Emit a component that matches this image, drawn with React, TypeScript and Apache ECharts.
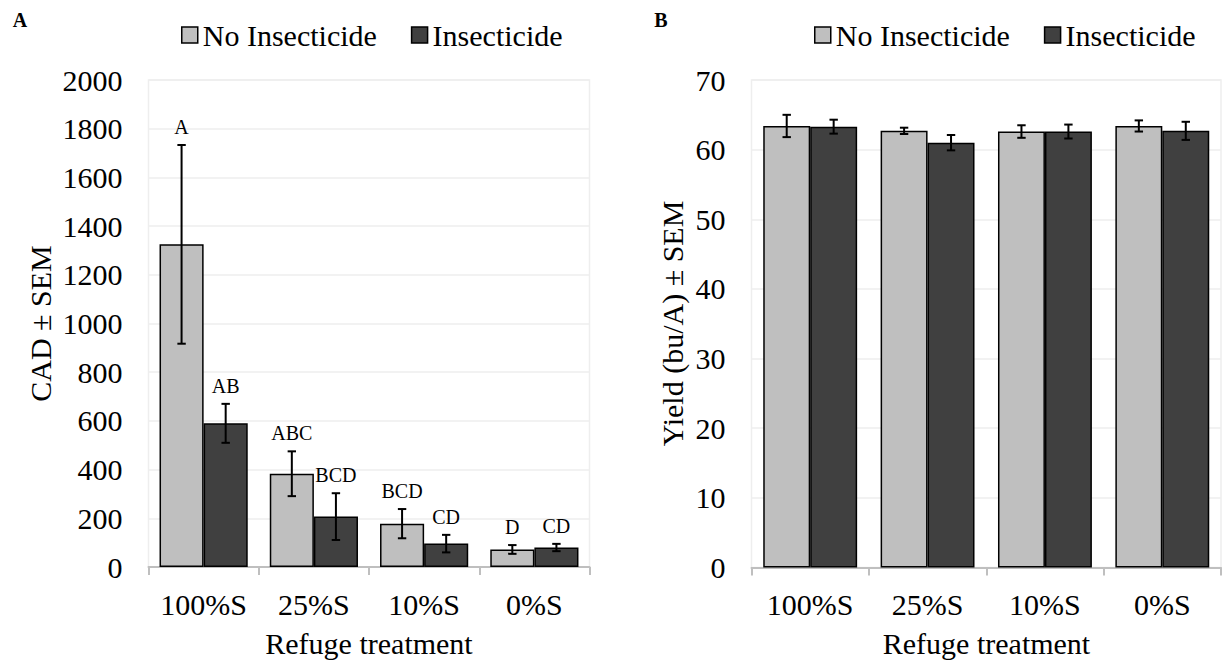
import React, { useEffect, useRef } from "react";
import * as echarts from "echarts";

const categories = ["100%S", "25%S", "10%S", "0%S"];
const seriesNames = ["No Insecticide", "Insecticide"];

// Panel A: CAD ± SEM
const cadNoIns = [1325, 383, 178, 72];
const cadNoInsErr = [408, 92, 60, 18];
const cadNoInsLetters = ["A", "ABC", "BCD", "D"];
const cadIns = [590, 207, 96, 80];
const cadInsErr = [80, 96, 36, 15];
const cadInsLetters = ["AB", "BCD", "CD", "CD"];
const cadTicks = { min: 0, max: 2000, interval: 200 };

// Panel B: Yield (bu/A) ± SEM
const yieldNoIns = [63.4, 62.7, 62.6, 63.4];
const yieldNoInsErr = [1.6, 0.45, 0.9, 0.8];
const yieldIns = [63.3, 61.0, 62.6, 62.7];
const yieldInsErr = [1.0, 1.1, 1.0, 1.3];
const yieldTicks = { min: 0, max: 70, interval: 10 };

const FONT = "Liberation Serif";
const LIGHT = "#bfbfbf";
const DARK = "#404040";

function errorSeries(
  name: string,
  gi: number,
  values: number[],
  errs: number[],
  side: number,
  letters: string[] | null
) {
  return {
    type: "custom",
    name,
    xAxisIndex: gi,
    yAxisIndex: gi,
    z: 10,
    data: values.map((v, i) => [i, v, errs[i]]),
    renderItem: (params: any, api: any) => {
      const i = api.value(0);
      const v = api.value(1);
      const e = api.value(2);
      const band = api.size([1, 0])[0];
      const c = api.coord([i, v]);
      const x = c[0] + side * band * 0.2;
      const yt = api.coord([i, v + e])[1];
      const yb = api.coord([i, v - e])[1];
      const cap = 4.2;
      const style = { stroke: "#000", lineWidth: 2 };
      const children: any[] = [
        { type: "line", shape: { x1: x, y1: yt, x2: x, y2: yb }, style },
        { type: "line", shape: { x1: x - cap, y1: yt, x2: x + cap, y2: yt }, style },
        { type: "line", shape: { x1: x - cap, y1: yb, x2: x + cap, y2: yb }, style },
      ];
      if (letters) {
        children.push({
          type: "text",
          x,
          y: yt - 18,
          style: {
            text: letters[params.dataIndex],
            fill: "#000",
            fontSize: 20,
            fontFamily: FONT,
            align: "center",
            verticalAlign: "middle",
          },
        });
      }
      return { type: "group", children };
    },
  };
}

function barSeries(name: string, gi: number, values: number[], color: string) {
  return {
    type: "bar",
    name,
    xAxisIndex: gi,
    yAxisIndex: gi,
    data: values,
    barGap: "0%",
    barCategoryGap: "20%",
    itemStyle: { color, borderColor: "#000", borderWidth: 1.5 },
  };
}

function xAxis(gi: number) {
  return {
    type: "category",
    gridIndex: gi,
    data: categories,
    axisLine: { show: true, lineStyle: { color: "#bfbfbf", width: 2 } },
    axisTick: { show: true, length: 8, lineStyle: { color: "#bfbfbf", width: 2 } },
    axisLabel: { color: "#000", fontSize: 30, fontFamily: FONT, margin: 22, interval: 0 },
  };
}

function yAxis(gi: number, t: { min: number; max: number; interval: number }) {
  return {
    type: "value",
    gridIndex: gi,
    min: t.min,
    max: t.max,
    interval: t.interval,
    axisLine: { show: false },
    axisTick: { show: false },
    splitLine: { show: true, lineStyle: { color: "#eeeeee", width: 1.5 } },
    axisLabel: {
      color: "#000",
      fontSize: 30,
      fontFamily: FONT,
      margin: 26,
      formatter: (v: number) => String(v),
    },
  };
}

function legend(left: number) {
  return {
    left,
    top: 15,
    icon: "rect",
    itemWidth: 16,
    itemHeight: 16,
    itemGap: 34,
    data: seriesNames,
    selectedMode: false,
    itemStyle: { borderColor: "#000", borderWidth: 1.5 },
    textStyle: { color: "#000", fontSize: 30, fontFamily: FONT },
  };
}

function txt(text: string, x: number, y: number, size: number, rotate = false, bold = false) {
  return {
    type: "text",
    x,
    y,
    rotation: rotate ? Math.PI / 2 : 0,
    style: {
      text,
      fill: "#000",
      fontSize: size,
      fontFamily: FONT,
      fontWeight: bold ? "bold" : "normal",
      align: "center",
      verticalAlign: "middle",
    },
  };
}

export default function App() {
  const ref = useRef<HTMLDivElement>(null);
  useEffect(() => {
    if (!ref.current) return;
    const chart = echarts.init(ref.current, undefined, { renderer: "svg" });
    chart.setOption({
      animation: false,
      backgroundColor: "#fff",
      textStyle: { fontFamily: FONT },
      legend: [legend(176), legend(809)],
      grid: [
        { left: 148.5, right: 632.5, top: 80, bottom: 96, show: true, borderColor: "#eeeeee", borderWidth: 1.5 },
        { left: 751.5, right: 1, top: 80, bottom: 95.5, show: true, borderColor: "#eeeeee", borderWidth: 1.5 },
      ],
      xAxis: [xAxis(0), xAxis(1)],
      yAxis: [yAxis(0, cadTicks), yAxis(1, yieldTicks)],
      series: [
        barSeries(seriesNames[0], 0, cadNoIns, LIGHT),
        barSeries(seriesNames[1], 0, cadIns, DARK),
        barSeries(seriesNames[0], 1, yieldNoIns, LIGHT),
        barSeries(seriesNames[1], 1, yieldIns, DARK),
        errorSeries("errA0", 0, cadNoIns, cadNoInsErr, -1, cadNoInsLetters),
        errorSeries("errA1", 0, cadIns, cadInsErr, 1, cadInsLetters),
        errorSeries("errB0", 1, yieldNoIns, yieldNoInsErr, -1, null),
        errorSeries("errB1", 1, yieldIns, yieldInsErr, 1, null),
      ],
      graphic: [
        txt("A", 20, 20, 20, false, true),
        txt("B", 661, 20, 20, false, true),
        txt("CAD ± SEM", 40, 323.5, 30, true),
        txt("Refuge treatment", 369, 643, 30),
        txt("Yield (bu/A) ± SEM", 672, 323.5, 30, true),
        txt("Refuge treatment", 986.5, 643, 30),
      ],
    });
    return () => chart.dispose();
  }, []);
  return (
    <div
      ref={ref}
      style={{ position: "fixed", left: 0, top: 0, width: 1222, height: 663, background: "#fff" }}
    />
  );
}
